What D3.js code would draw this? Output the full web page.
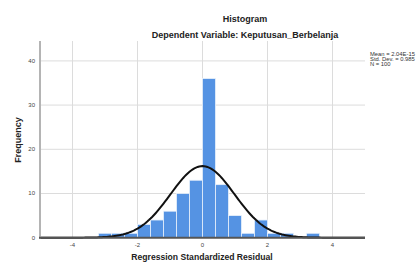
<!DOCTYPE html>
<html>
<head>
<meta charset="utf-8">
<script src="https://cdn.jsdelivr.net/npm/d3@7"></script>
<style>
  body { margin: 0; background: #fff; }
  svg { display: block; font-family: "Liberation Sans", Arial, sans-serif; }
</style>
</head>
<body>
<div id="chart"></div>
<script>
// bin lower edges (width 0.4) and counts
var binStarts = [-3.2, -2.8, -2.4, -2.0, -1.6, -1.2, -0.8, -0.4, 0.0, 0.4, 0.8, 1.2, 1.6, 2.0, 2.4, 2.8, 3.2];
var binCounts = [1, 1, 1, 3, 4, 6, 10, 13, 36, 12, 5, 1, 4, 1, 1, 0, 1];
var binWidth = 0.4;
var xTicks = [-4, -2, 0, 2, 4];
var yTicks = [0, 10, 20, 30, 40];
var statMean = 2.04e-15, statSd = 0.985, statN = 100;
var statLabels = ["Mean = 2.04E-15", "Std. Dev. = 0.985", "N = 100"];

var width = 416, height = 262;
var svg = d3.select("#chart").append("svg")
    .attr("width", width)
    .attr("height", height);

var x = d3.scaleLinear().domain([-5, 5]).range([40, 365]);
var y = d3.scaleLinear().domain([0, 44.5]).range([237.7, 41]);

// grid
svg.append("g").selectAll("line")
    .data(xTicks)
    .enter().append("line")
    .attr("x1", d => x(d)).attr("x2", d => x(d))
    .attr("y1", y(44.5)).attr("y2", y(0))
    .attr("stroke", "#dcdcdc").attr("stroke-width", 1);
svg.append("g").selectAll("line")
    .data(yTicks.filter(d => d > 0))
    .enter().append("line")
    .attr("x1", x(-5)).attr("x2", x(5))
    .attr("y1", d => y(d)).attr("y2", d => y(d))
    .attr("stroke", "#dcdcdc").attr("stroke-width", 1);

// bars
svg.append("g").selectAll("rect")
    .data(binStarts.map((s, i) => ({ s: s, c: binCounts[i] })).filter(d => d.c > 0))
    .enter().append("rect")
    .attr("x", d => x(d.s))
    .attr("y", d => y(d.c))
    .attr("width", d => x(d.s + binWidth) - x(d.s))
    .attr("height", d => y(0) - y(d.c))
    .attr("fill", "#5593e3")
    .attr("stroke", "#e8f0fb")
    .attr("stroke-width", 0.8);

// normal curve from the reported mean / std. dev.
var scaleN = statN * binWidth;
var curvePts = d3.range(-5, 5.001, 0.05).map(function(v) {
    var z = (v - statMean) / statSd;
    return [v, scaleN / (statSd * Math.sqrt(2 * Math.PI)) * Math.exp(-0.5 * z * z)];
});
svg.append("path")
    .datum(curvePts)
    .attr("d", d3.line().x(d => x(d[0])).y(d => y(d[1])))
    .attr("fill", "none")
    .attr("stroke", "#111")
    .attr("stroke-width", 2);

// axes lines
svg.append("line")
    .attr("x1", x(-5)).attr("x2", x(-5))
    .attr("y1", y(44.5)).attr("y2", y(0) + 1)
    .attr("stroke", "#b4b4b4").attr("stroke-width", 2);
svg.append("line")
    .attr("x1", x(-5) - 1).attr("x2", x(5))
    .attr("y1", y(0)).attr("y2", y(0))
    .attr("stroke", "#555").attr("stroke-width", 2);

// tick labels
svg.append("g").selectAll("text")
    .data(xTicks)
    .enter().append("text")
    .attr("x", d => x(d))
    .attr("y", 247)
    .attr("text-anchor", "middle")
    .attr("font-size", 6)
    .attr("fill", "#444")
    .text(d => d);
svg.append("g").selectAll("text")
    .data(yTicks)
    .enter().append("text")
    .attr("x", 35)
    .attr("y", d => y(d) + 2)
    .attr("text-anchor", "end")
    .attr("font-size", 6)
    .attr("fill", "#444")
    .text(d => d);

// titles
svg.append("text")
    .attr("x", 245).attr("y", 22)
    .attr("text-anchor", "middle")
    .attr("font-size", 9).attr("font-weight", "bold")
    .attr("fill", "#222")
    .text("Histogram");
svg.append("text")
    .attr("x", 245).attr("y", 38)
    .attr("text-anchor", "middle")
    .attr("font-size", 9).attr("font-weight", "bold")
    .attr("fill", "#222")
    .text("Dependent Variable: Keputusan_Berbelanja");
svg.append("text")
    .attr("x", 202).attr("y", 259.5)
    .attr("text-anchor", "middle")
    .attr("font-size", 8.6).attr("font-weight", "bold")
    .attr("fill", "#222")
    .text("Regression Standardized Residual");
svg.append("text")
    .attr("transform", "translate(21,140) rotate(-90)")
    .attr("text-anchor", "middle")
    .attr("font-size", 9).attr("font-weight", "bold")
    .attr("fill", "#222")
    .text("Frequency");

// stats box (text stretched sideways a bit like the original)
svg.append("g")
    .attr("transform", "translate(370,0) scale(1.3,1)")
    .selectAll("text")
    .data(statLabels)
    .enter().append("text")
    .attr("x", 0)
    .attr("y", (d, i) => 56.5 + i * 4.6)
    .attr("font-size", 4.5)
    .attr("fill", "#333")
    .text(d => d);
</script>
</body>
</html>
